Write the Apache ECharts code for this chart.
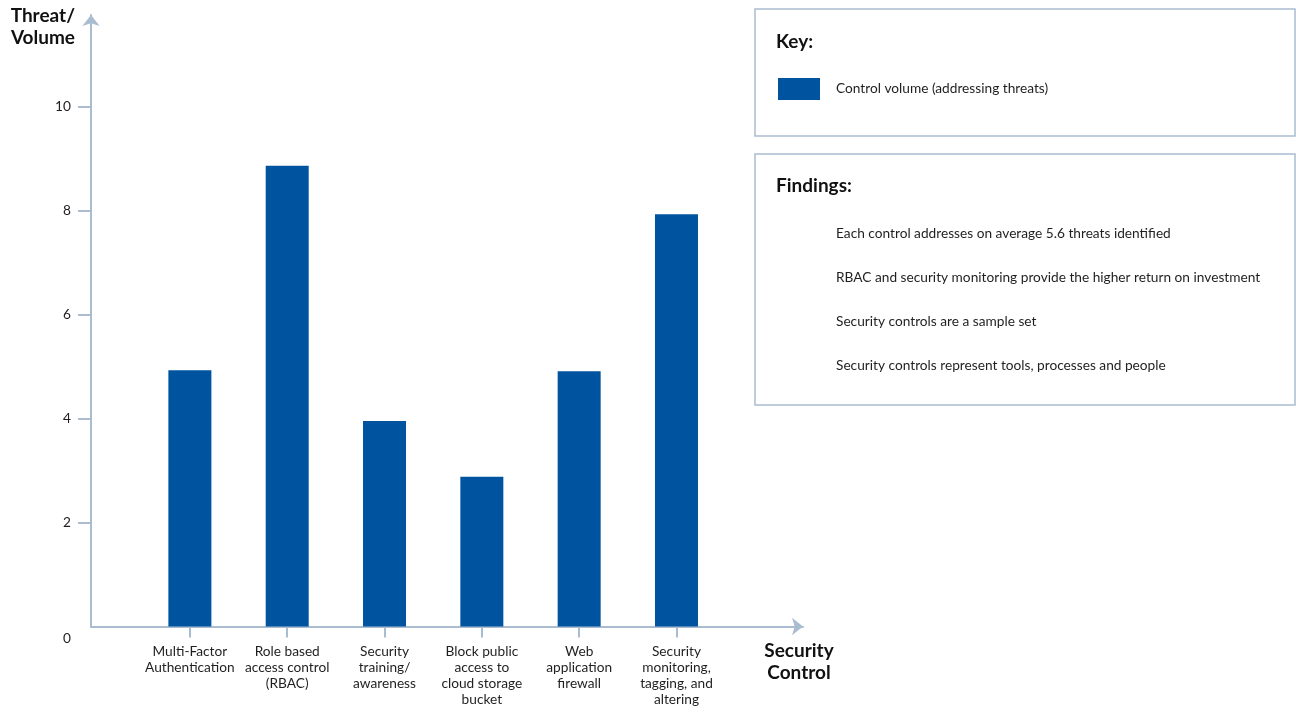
<!DOCTYPE html>
<html>
<head>
<meta charset="utf-8">
<title>Security controls vs threats addressed</title>
<script src="https://cdn.jsdelivr.net/npm/echarts@6/dist/echarts.min.js"></script>
<style>
  html, body { margin: 0; padding: 0; background: #ffffff; }
  #chart { width: 1296px; height: 713px; }
</style>
</head>
<body>
<div id="chart"></div>
<script>
// Security controls and how many identified threats each one addresses
const categories = [
  'Multi-Factor\nAuthentication',
  'Role based\naccess control\n(RBAC)',
  'Security\ntraining/\nawareness',
  'Block public\naccess to\ncloud storage\nbucket',
  'Web\napplication\nfirewall',
  'Security\nmonitoring,\ntagging, and\naltering'
];
const controlVolume = [4.93, 8.86, 3.95, 2.88, 4.91, 7.93];
const yTickValues = [0, 2, 4, 6, 8, 10];
const seriesName = 'Control volume (addressing threats)';
const findings = [
  'Each control addresses on average 5.6 threats identified',
  'RBAC and security monitoring provide the higher return on investment',
  'Security controls are a sample set',
  'Security controls represent tools, processes and people'
];

const FONT = 'Lato, "Open Sans", sans-serif';
const AXIS = '#aabcd0';
const BAR = '#00539f';
const TEXT = '#1f1f1f';
const BODY_SIZE = 13.7;
const HEAD = 'bold 19px ' + FONT;

const positions = categories.map((_, i) => i + 1);
const barData = controlVolume.map((v, i) => [positions[i], v]);

const chart = echarts.init(document.getElementById('chart'));

const graphics = [
  // Key panel
  { type: 'rect', z: 0, shape: { x: 755, y: 9, width: 540, height: 127 },
    style: { fill: '#fff', stroke: AXIS, lineWidth: 1.5 } },
  { type: 'text', z: 5, x: 776, y: 42,
    style: { text: 'Key:', font: HEAD, fill: '#111', verticalAlign: 'middle' } },
  // Findings panel
  { type: 'rect', z: 0, shape: { x: 755, y: 154, width: 540, height: 251 },
    style: { fill: '#fff', stroke: AXIS, lineWidth: 1.5 } },
  { type: 'text', z: 5, x: 776, y: 186,
    style: { text: 'Findings:', font: HEAD, fill: '#111', verticalAlign: 'middle' } },
  // Axis titles
  { type: 'text', z: 5, x: 75, y: 5,
    style: { text: 'Threat/\nVolume', font: HEAD, fill: '#111',
             lineHeight: 22, align: 'right', verticalAlign: 'top' } },
  { type: 'text', z: 5, x: 799, y: 640,
    style: { text: 'Security\nControl', font: HEAD, fill: '#111',
             lineHeight: 22, align: 'center', verticalAlign: 'top' } }
];
findings.forEach((t, i) => {
  graphics.push({ type: 'text', z: 5, x: 836, y: 233.5 + i * 44,
    style: { text: t, font: BODY_SIZE + 'px ' + FONT, fill: TEXT, verticalAlign: 'middle' } });
});

chart.setOption({
  animation: false,
  textStyle: { fontFamily: FONT },
  grid: { left: 91, top: 15, width: 712, bottom: 86.5, containLabel: false },
  legend: {
    z: 10,
    left: 778, top: 78, padding: 0,
    icon: 'rect', itemWidth: 42, itemHeight: 22,
    data: [seriesName],
    selectedMode: false,
    textStyle: { fontFamily: FONT, fontSize: BODY_SIZE, color: TEXT, padding: [0, 0, 0, 11] }
  },
  xAxis: {
    type: 'value',
    min: -0.016, max: 7.3,
    splitLine: { show: false },
    axisLine: { show: true, onZero: true, symbol: ['none', 'arrow'], symbolSize: [13, 11],
                lineStyle: { color: AXIS, width: 2 } },
    axisTick: { show: true, customValues: positions, length: 11,
                lineStyle: { color: AXIS, width: 2 } },
    axisLabel: {
      customValues: positions, margin: 17,
      fontFamily: FONT, fontSize: BODY_SIZE, lineHeight: 16, color: TEXT,
      verticalAlign: 'top',
      formatter: v => categories[Math.round(v) - 1] || ''
    }
  },
  yAxis: {
    type: 'value',
    min: 0, max: 11.76,
    splitLine: { show: false },
    axisLine: { show: true, onZero: false, symbol: ['none', 'arrow'], symbolSize: [13, 11],
                lineStyle: { color: AXIS, width: 2 } },
    axisTick: { show: true, customValues: yTickValues.slice(1), length: 13,
                lineStyle: { color: AXIS, width: 2 } },
    axisLabel: {
      customValues: yTickValues, margin: 20,
      fontFamily: FONT, fontSize: BODY_SIZE, color: TEXT,
      formatter: v => v === 0 ? '{z|0}' : String(v),
      rich: { z: { fontFamily: FONT, fontSize: BODY_SIZE, color: TEXT, padding: [25, 0, 0, 0] } }
    }
  },
  series: [{
    name: seriesName,
    type: 'bar',
    data: barData,
    barWidth: 43,
    itemStyle: { color: BAR },
    emphasis: { disabled: true }
  }],
  graphic: graphics
});
</script>
</body>
</html>
